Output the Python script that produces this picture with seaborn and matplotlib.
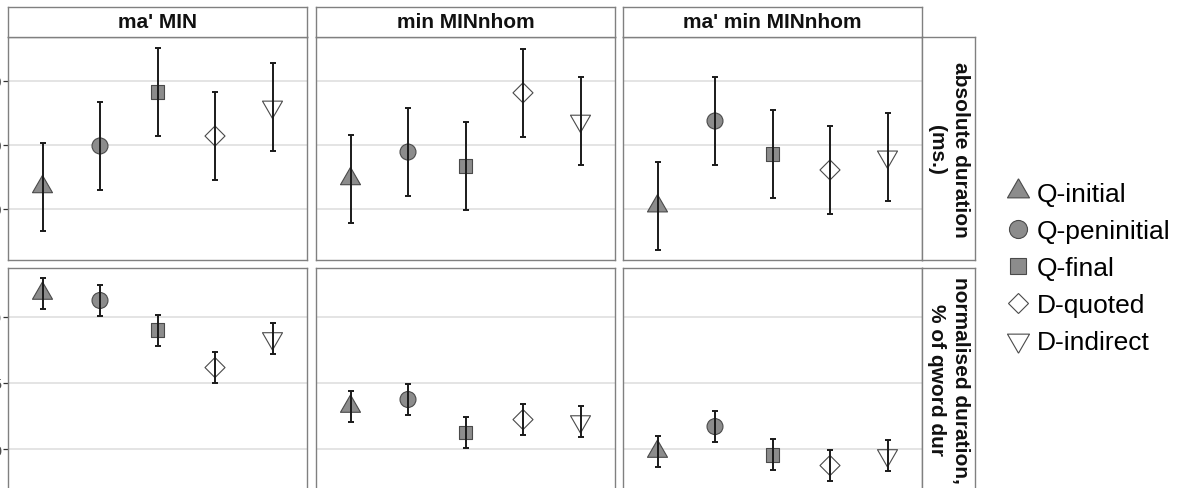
import numpy as np
import pandas as pd
import matplotlib
matplotlib.use("Agg")
import matplotlib.pyplot as plt
from matplotlib.lines import Line2D
import seaborn as sns

# Categories and facets
types = ["Q-initial", "Q-peninitial", "Q-final", "D-quoted", "D-indirect"]
columns = ["ma' MIN", "min MINnhom", "ma' min MINnhom"]
rows = ["absolute duration\n(ms.)", "normalised duration,\n% of qword dur"]

# Absolute duration (ms.): means per condition, 95% CI half-width
abs_ma_MIN = [106.9, 119.7, 136.6, 122.8, 131.9]
abs_min_MINnhom = [109.4, 117.8, 113.4, 136.3, 127.5]
abs_ma_min_MINnhom = [100.9, 127.5, 117.2, 112.2, 116.3]
abs_ci = 13.75
abs_ticks = [100, 120, 140]

# Normalised duration (% of qword duration)
norm_ma_MIN = [31.78, 31.25, 28.98, 26.17, 28.37]
norm_min_MINnhom = [23.22, 23.75, 21.25, 22.23, 22.08]
norm_ma_min_MINnhom = [19.81, 21.70, 19.58, 18.75, 19.51]
norm_ci = 1.17
norm_ticks = [20, 25, 30]

frames = []
for r, (vals, ci) in enumerate([
        ([abs_ma_MIN, abs_min_MINnhom, abs_ma_min_MINnhom], abs_ci),
        ([norm_ma_MIN, norm_min_MINnhom, norm_ma_min_MINnhom], norm_ci)]):
    for c, v in enumerate(vals):
        frames.append(pd.DataFrame({
            "row": rows[r], "col": columns[c], "type": types,
            "pos": np.arange(len(types)), "mean": v, "ci": ci}))
df = pd.concat(frames, ignore_index=True)

sns.set_theme(style="white")
plt.rcParams["font.family"] = ["Liberation Sans", "DejaVu Sans"]

W, H = 1178, 489
fig = plt.figure(figsize=(W / 100, H / 100), dpi=100)


def rect(x0, y0, x1, y1):
    return [x0 / W, 1 - y1 / H, (x1 - x0) / W, (y1 - y0) / H]


# closed equilateral triangles centred on their centroid
tri_up = [(0, 0.577), (-0.5, -0.289), (0.5, -0.289), (0, 0.577)]
tri_down = [(0, -0.577), (0.5, 0.289), (-0.5, 0.289), (0, -0.577)]
markers = dict(zip(types, [tri_up, "o", "s", "D", tri_down]))
fills = dict(zip(types, ["#8c8c8c", "#8c8c8c", "#8c8c8c", "white", "white"]))
sizes = dict(zip(types, [277, 132, 101, 104, 277]))

border = "#808080"
edge = "#4a4a4a"
col_left = [8, 316, 623]
panel_w = 299
row_top = [38, 269]
panel_h = 223
ylims = [(84.06, 153.75), (16.82, 33.71)]
yticks = [abs_ticks, norm_ticks]

for r, rname in enumerate(rows):
    for c, cname in enumerate(columns):
        x0, y0 = col_left[c], row_top[r]
        ax = fig.add_axes(rect(x0, y0, x0 + panel_w, y0 + panel_h))
        sub = df[(df["row"] == rname) & (df["col"] == cname)]
        sns.scatterplot(data=sub, x="pos", y="mean", hue="type", style="type",
                        size="type", hue_order=types, style_order=types,
                        size_order=types, palette=fills, markers=markers,
                        sizes=sizes, edgecolor=edge, linewidth=0.8,
                        legend=False, ax=ax, zorder=2)
        ax.errorbar(sub["pos"], sub["mean"], yerr=sub["ci"], fmt="none",
                    ecolor="#1a1a1a", elinewidth=1.4, capsize=1.9,
                    capthick=1.4, zorder=3)
        ax.set_xlim(-0.6, len(types) - 0.4)
        ax.set_ylim(*ylims[r])
        ax.set_yticks(yticks[r])
        ax.set_xticks([])
        ax.set_xlabel("")
        ax.set_ylabel("")
        ax.yaxis.grid(True, color="#e4e4e4", linewidth=1.4)
        ax.xaxis.grid(False)
        ax.set_axisbelow(True)
        ax.set_facecolor("white")
        for s in ax.spines.values():
            s.set_color(border)
            s.set_linewidth(1.0)
        if c == 0:
            ax.tick_params(axis="y", left=True, length=3.4, width=0.9,
                           color="#333333", pad=1, labelsize=11,
                           labelcolor="#4d4d4d")
        else:
            ax.tick_params(axis="y", left=False, labelleft=False)

        # top strips
        if r == 0:
            sax = fig.add_axes(rect(x0, 8, x0 + panel_w, y0))
            sax.set_xticks([]); sax.set_yticks([])
            sax.set_facecolor("white")
            for s in sax.spines.values():
                s.set_color(border); s.set_linewidth(1.0)
            sax.text(0.5, 0.5, cname, ha="center", va="center",
                     fontsize=15, fontweight="bold", color="#111111",
                     transform=sax.transAxes)

    # right strips
    y0 = row_top[r]
    rax = fig.add_axes(rect(922, y0, 975, y0 + panel_h))
    rax.set_xticks([]); rax.set_yticks([])
    rax.set_facecolor("white")
    for s in rax.spines.values():
        s.set_color(border); s.set_linewidth(1.0)
    rax.text(0.5, 0.5, rname, ha="center", va="center", rotation=-90,
             fontsize=15, fontweight="bold", color="#111111",
             linespacing=1.3, transform=rax.transAxes)

# legend
leg_ms = dict(zip(types, [18.3, 13, 11.5, 10.5, 18.3]))
handles = [Line2D([], [], linestyle="none", marker=markers[t],
                  markersize=leg_ms[t], markerfacecolor=fills[t],
                  markeredgecolor=edge, markeredgewidth=0.8)
           for t in types]
fig.legend(handles, types, loc="center left",
           bbox_to_anchor=(1007 / W, 1 - 269 / H), frameon=False,
           fontsize=19, labelspacing=0.5, handlelength=0.8,
           handletextpad=0.34, borderpad=0, borderaxespad=0,
           labelcolor="black")

fig.savefig("out.png", dpi=100, facecolor="white")
